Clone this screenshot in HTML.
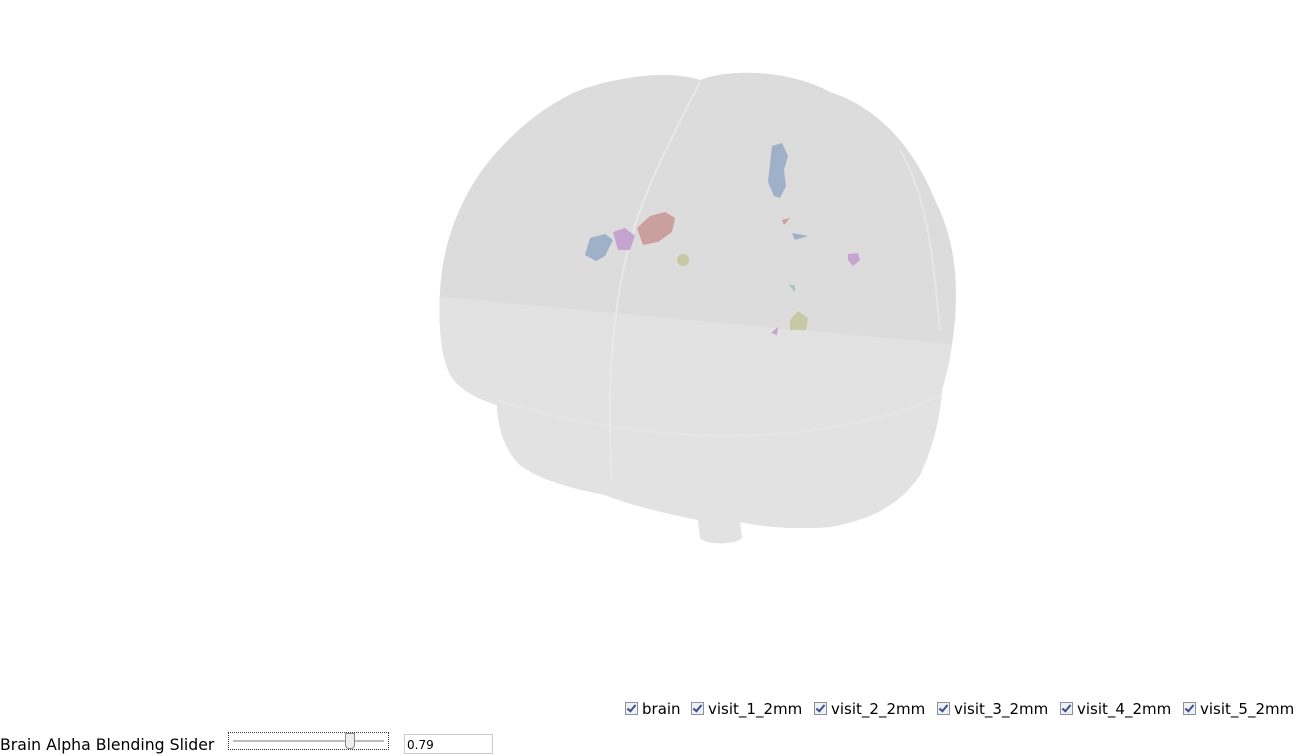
<!DOCTYPE html>
<html><head><meta charset="utf-8"><style>
html,body{margin:0;padding:0;background:#fff;width:1311px;height:756px;overflow:hidden;font-family:"DejaVu Sans","Liberation Sans",sans-serif;}
.cb{position:absolute;top:700px;font-size:15px;color:#000;white-space:nowrap}
.cb i{display:inline-block;width:11px;height:11px;border:1px solid #8a8f9a;background:#eef0f5;vertical-align:-1px;margin-right:4px;position:relative}
.cb i:after{content:"";position:absolute;left:3px;top:0px;width:3px;height:7px;border:solid #3b4f8a;border-width:0 2px 2px 0;transform:rotate(40deg)}
</style></head><body>
<svg width="1311" height="700" style="position:absolute;left:0;top:0">
<defs><clipPath id="bc"><path id="bp" d="M700,80 C730,68 790,70 830,92 C880,108 915,150 935,200 C955,240 958,280 955,320 C952,350 948,370 942,390 C940,420 932,450 920,475 C900,505 870,520 830,527 C790,530 760,526 740,522 L742,538 C735,545 705,545 700,538 L698,520 C660,512 630,505 605,495 C570,488 540,480 520,465 C505,450 498,430 497,405 C475,398 455,388 448,370 C438,345 438,300 442,270 C448,230 465,190 490,160 C515,130 545,105 580,90 C620,76 670,70 700,80 Z"/></clipPath></defs>
<use href="#bp" fill="#dcdcdc"/>
<g clip-path="url(#bc)">
<path d="M430,296 L960,345 L960,560 L430,560 Z" fill="#e2e2e2"/>
<path d="M497,400 C560,420 620,430 690,435 C780,440 880,425 942,395" stroke="#e6e6e6" stroke-width="2" fill="none"/>
<path d="M700,82 C665,150 640,200 628,250 C615,300 605,380 612,480" stroke="#e8e8e8" stroke-width="2" fill="none"/>
<path d="M900,150 C930,200 935,280 940,330" stroke="#e6e6e6" stroke-width="2" fill="none"/>
</g>
<g>
<path d="M772,146 L782,143 L788,156 L784,170 L786,186 L780,198 L774,196 L768,182 L770,164 Z" fill="#9fb0c9"/>
<path d="M637,228 L650,216 L665,212 L675,218 L672,232 L658,242 L643,245 Z" fill="#cc9f9f"/>
<path d="M613,232 L625,228 L635,236 L630,250 L618,250 Z" fill="#c5a4cf"/>
<path d="M590,238 L605,234 L613,240 L605,256 L596,261 L585,255 Z" fill="#9fb0c9"/>
<circle cx="683" cy="260" r="6" fill="#c7c9a4"/>
<path d="M848,254 L858,253 L860,260 L853,266 L848,260 Z" fill="#c5a4cf"/>
<path d="M790,320 L798,311 L808,318 L806,330 L790,330 Z" fill="#c7c9a4"/>
<path d="M771,333 L778,327 L777,335 Z" fill="#c5a4cf"/>
<path d="M782,220 L790,218 L784,225 Z" fill="#cc9f9f"/>
<path d="M792,233 L808,236 L795,240 Z" fill="#9fb0c9"/>
<path d="M789,285 L795,285 L795,292 Z" fill="#a3c9b4"/>
</g>
</svg>
<div class="cb" style="left:625px"><i></i>brain</div>
<div class="cb" style="left:691px"><i></i>visit_1_2mm</div>
<div class="cb" style="left:814px"><i></i>visit_2_2mm</div>
<div class="cb" style="left:937px"><i></i>visit_3_2mm</div>
<div class="cb" style="left:1060px"><i></i>visit_4_2mm</div>
<div class="cb" style="left:1183px"><i></i>visit_5_2mm</div>
<div style="position:absolute;left:0;top:735px;font-size:15.7px">Brain Alpha Blending Slider</div>
<div style="position:absolute;left:228px;top:732px;width:159px;height:16px;border:1px dotted #333">
<div style="position:absolute;left:4px;right:4px;top:7px;height:2px;background:#bbb"></div>
<div style="position:absolute;left:116px;top:0;width:8px;height:14px;background:#eee;border:1px solid #888;border-radius:0 0 4px 4px"></div>
</div>
<div style="position:absolute;left:404px;top:734px;height:20px;border:1px solid #ccc;font-size:12px;line-height:20px;padding-left:2px;box-sizing:border-box;width:89px">0.79</div>
</body></html>
